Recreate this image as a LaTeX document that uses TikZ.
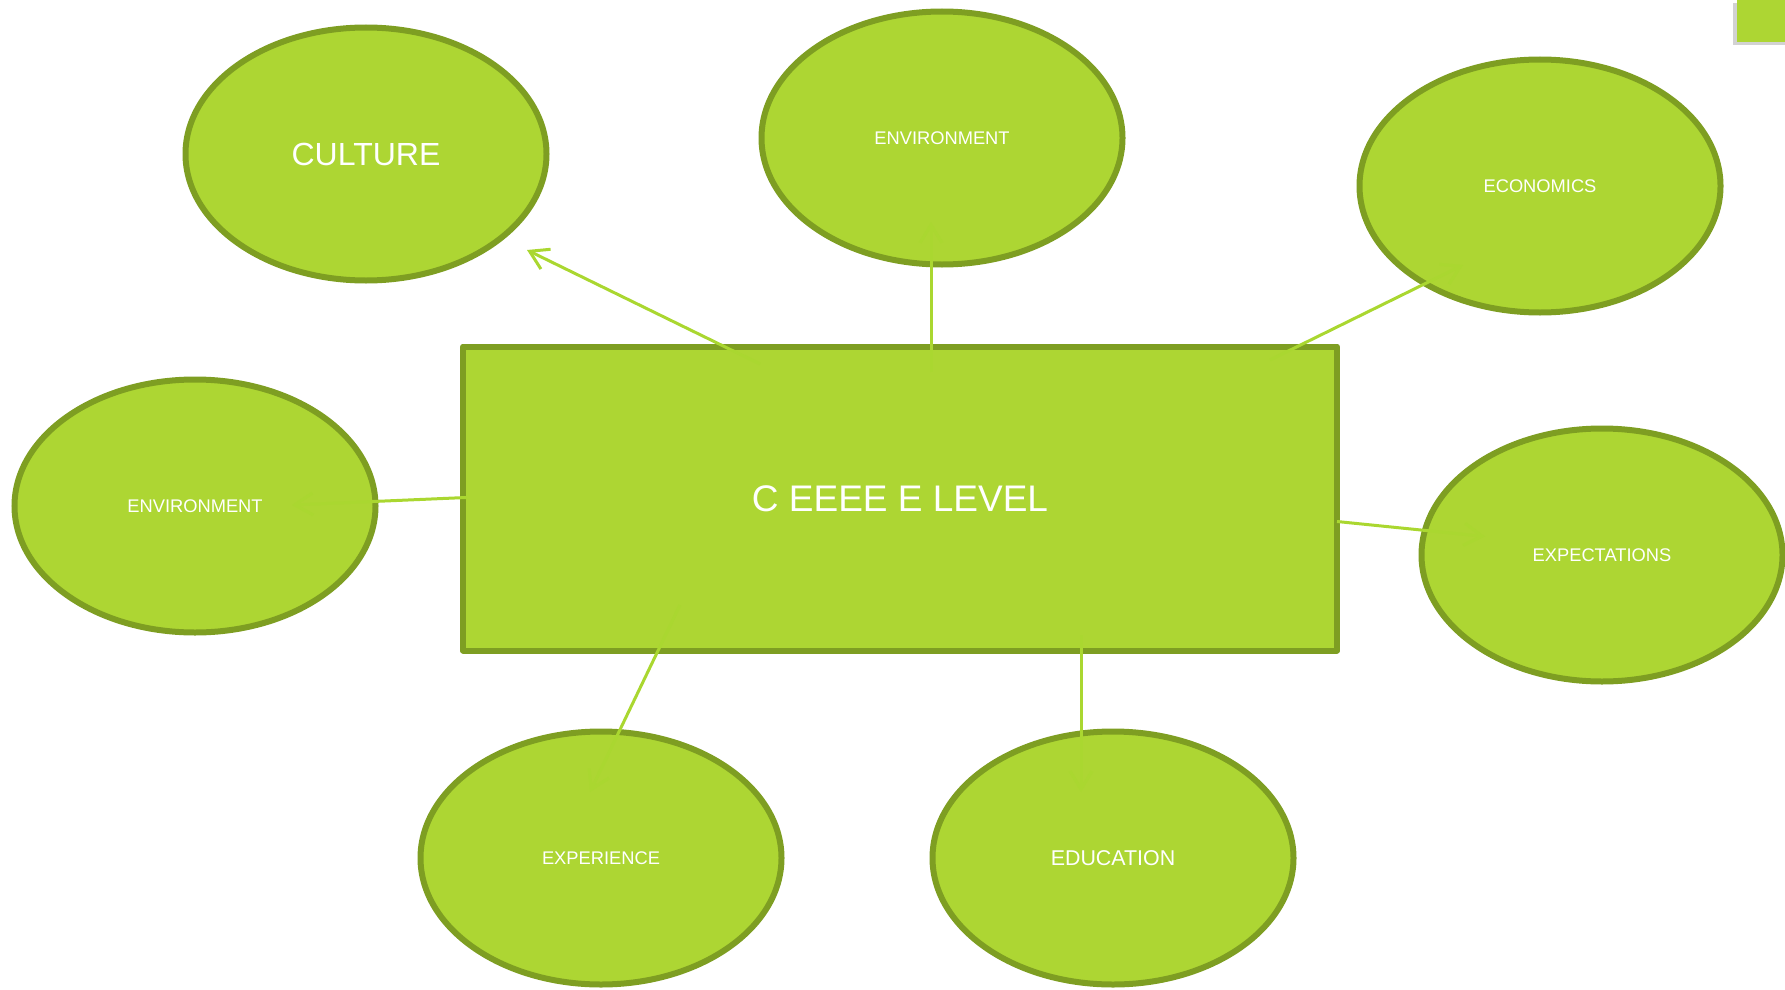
\documentclass[tikz,border=0pt]{standalone}
\usepackage{fontspec}
\setmainfont{Liberation Sans}
\usetikzlibrary{arrows.meta,shapes.geometric}
\definecolor{leaf}{RGB}{173,214,51}
\definecolor{leafdark}{RGB}{126,158,34}
\definecolor{link}{RGB}{170,215,48}
\tikzset{
  bubble/.style={ellipse, draw=leafdark, fill=leaf, line width=6pt,
    minimum width=361pt, minimum height=253pt, inner sep=0pt,
    text=white, font=\fontsize{18.3}{22}\selectfont},
  centrebox/.style={rectangle, draw=leafdark, fill=leaf, line width=6pt,
    line join=round, minimum width=874pt, minimum height=304pt, inner sep=0pt,
    text=white, font=\fontsize{37}{44}\selectfont},
  link/.style={draw=link, line width=3pt, -{Straight Barb[length=18pt,width=22pt,line width=3pt]}}
}
\begin{document}
\begin{tikzpicture}[x=1pt,y=-1pt]
\useasboundingbox (0,0) rectangle (1785,990);
% corner square with shadow
\fill[black!35,opacity=0.5] (1733,3) rectangle (1785,45);
\fill[leaf] (1737,0) rectangle (1785,42);
% shapes
\node[bubble, font=\fontsize{32}{38}\selectfont] (culture) at (366,154) {CULTURE};
\node[bubble] (envtop) at (942,138) {ENVIRONMENT};
\node[bubble] (econ) at (1540,186) {ECONOMICS};
\node[bubble] (envleft) at (195,506) {ENVIRONMENT};
\node[bubble] (expect) at (1602,555) {EXPECTATIONS};
\node[bubble] (exper) at (601,858) {EXPERIENCE};
\node[bubble, font=\fontsize{21.4}{26}\selectfont] (educ) at (1113,858) {EDUCATION};
\node[centrebox] (core) at (900,498.5) {C EEEE E LEVEL};
% connector end points
\coordinate (s1) at (760,364);  \coordinate (t1) at (527,250);
\coordinate (s2) at (931,372);  \coordinate (t2) at (931,222);
\coordinate (s3) at (1270,360); \coordinate (t3) at (1463,265);
\coordinate (s4) at (466,497.5);\coordinate (t4) at (292,505);
\coordinate (s5) at (1337,521.5);\coordinate (t5) at (1485,536.5);
\coordinate (s6) at (680,605);  \coordinate (t6) at (590,792);
\coordinate (s7) at (1081,635); \coordinate (t7) at (1081,792);
\draw[link] (s1) -- (t1);
\draw[link] (s2) -- (t2);
\draw[link] (s3) -- (t3);
\draw[link] (s4) -- (t4);
\draw[link] (s5) -- (t5);
\draw[link] (s6) -- (t6);
\draw[link] (s7) -- (t7);
\end{tikzpicture}
\end{document}
